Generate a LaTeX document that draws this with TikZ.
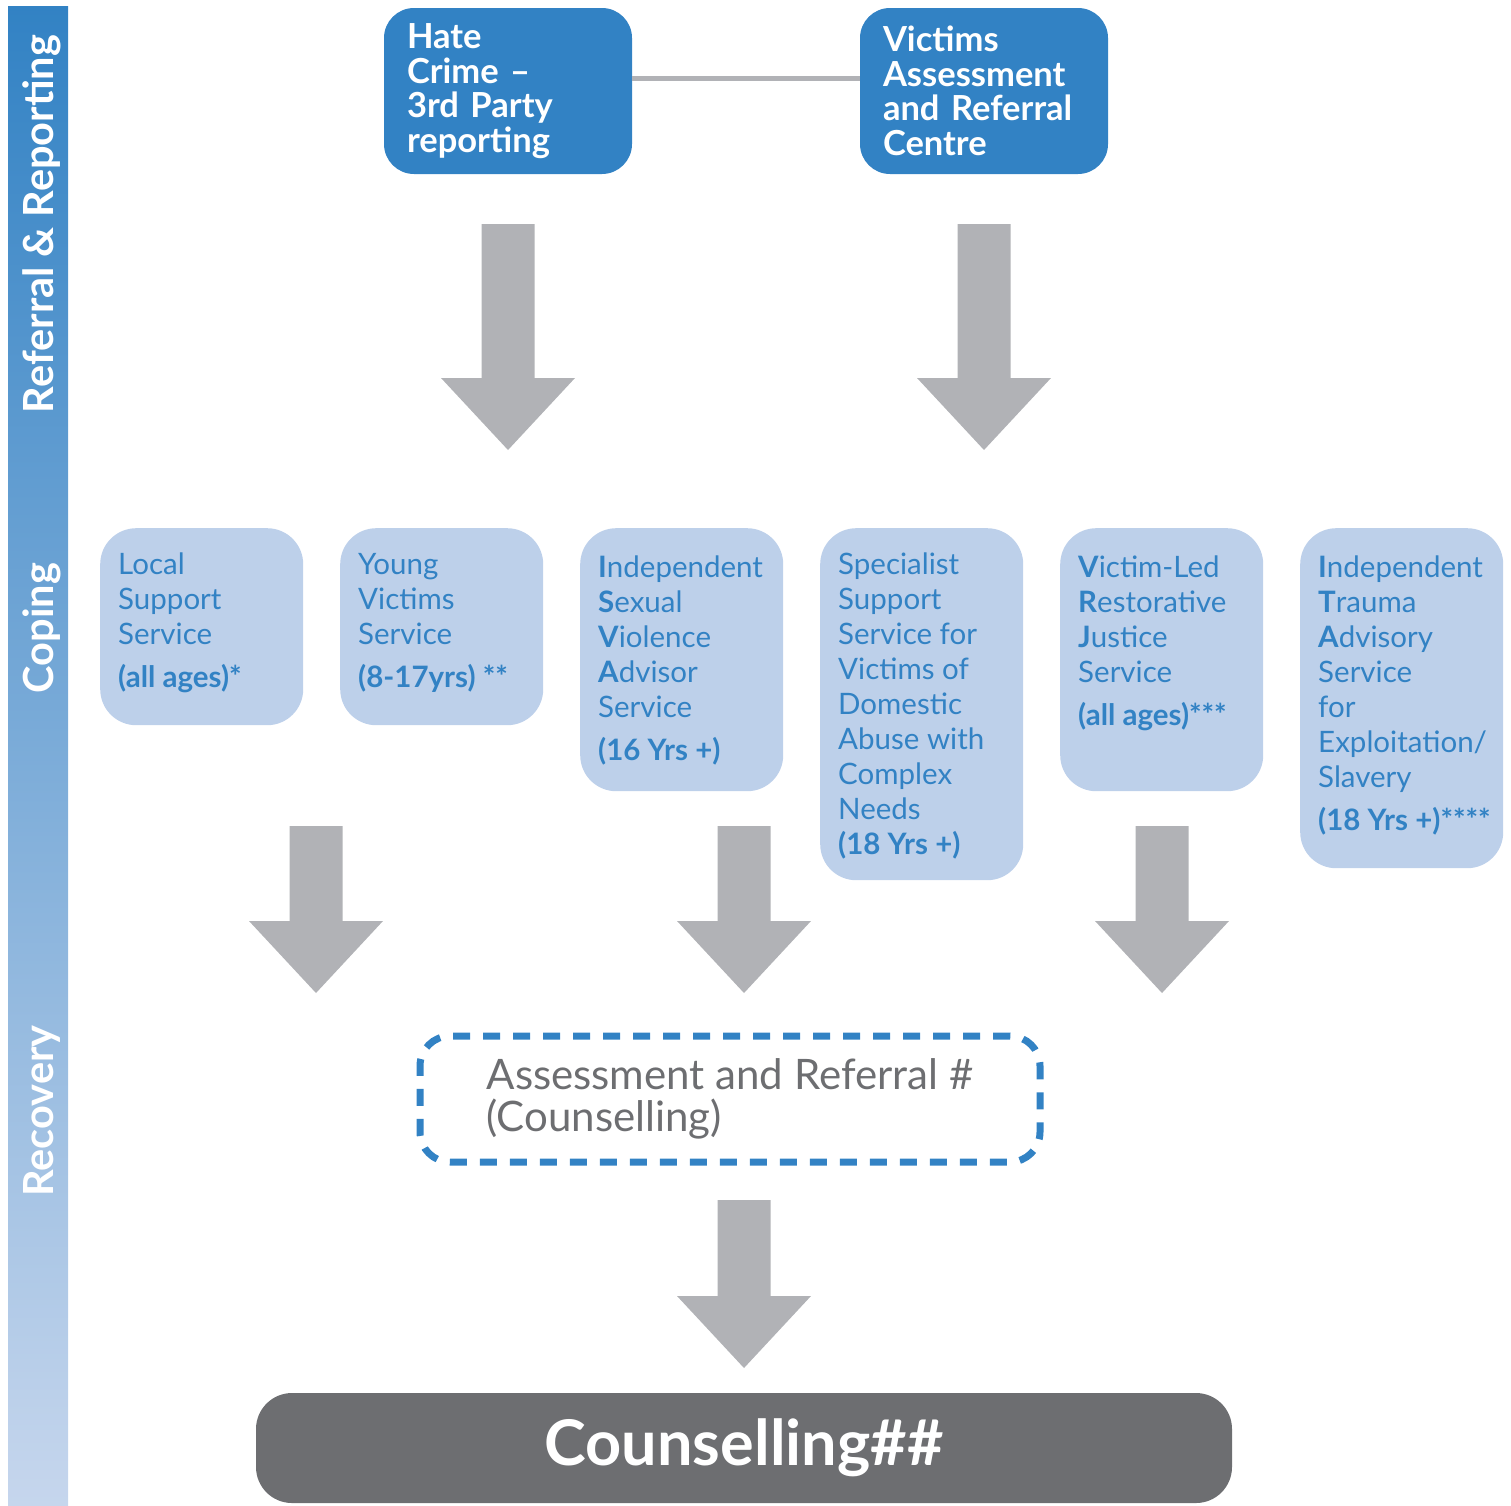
\documentclass[tikz,border=0pt]{standalone}
\usepackage{fontspec}
\setmainfont{Lato}
\definecolor{refblue}{HTML}{3282C4}
\definecolor{barpale}{HTML}{C6D6ED}
\definecolor{copefill}{HTML}{BDD0EA}
\definecolor{arrowgray}{HTML}{B1B2B6}
\definecolor{counselgray}{HTML}{6D6E71}
\begin{document}
\begin{tikzpicture}[x=1pt,y=-1pt,
  topbox/.style={rectangle, rounded corners=30, fill=refblue, text=white,
    font=\fontsize{34.5}{34.5}\selectfont\bfseries, minimum width=248,
    minimum height=166, text width=202, inner xsep=23, inner ysep=0, align=left},
  copebox/.style={rectangle, rounded corners=36, fill=copefill, anchor=north west,
    minimum width=203},
  copetext/.style={anchor=north west, inner sep=0, align=left, text=refblue,
    font=\fontsize{29.5}{35}\selectfont},
  barlabel/.style={rotate=90, anchor=base, text=white, inner sep=0,
    font=\fontsize{41.5}{42}\selectfont\bfseries},
  link/.style={arrowgray, line width=5}]

\useasboundingbox (0,0) rectangle (1511,1505);

\shade[top color=refblue, bottom color=barpale] (8,6) rectangle (68,1505);
\node[barlabel] (refrep) at (53,224) {Referral \& Reporting};
\node[barlabel] (coping) at (53,628) {Coping};
\node[barlabel] (recov) at (53,1111) {Recovery};

\node[topbox] (hate) at (508,91) {Hate\\Crime –\\3rd Party\\reporting};
\node[topbox] (varc) at (984,91) {Victims\\Assessment\\and Referral\\Centre};
\draw[link] ([yshift=13pt]hate.east) -- ([yshift=13pt]varc.west);

\foreach \x/\t/\b in {508/224/450, 984/224/450, 316/826/993, 744/826/993,
    1162/826/993, 744/1200/1368}
  \fill[arrowgray] (\x-26.5,\t) -- (\x+26.5,\t) -- (\x+26.5,\b-72)
    -- (\x+67,\b-72) -- (\x,\b) -- (\x-67,\b-72) -- (\x-26.5,\b-72) -- cycle;

\node[copebox, minimum height=197] (lss) at (100,528) {};
\node[copebox, minimum height=197] (yvs) at (340,528) {};
\node[copebox, minimum height=263] (isva) at (580,528) {};
\node[copebox, minimum height=352] (sss) at (820,528) {};
\node[copebox, minimum height=263] (vlrj) at (1060,528) {};
\node[copebox, minimum height=340] (itas) at (1300,528) {};

\node[copetext] (lsstext) at ([xshift=18pt,yshift=-25pt]lss.north west)
  {Local\\Support\\Service\\[8pt]\textbf{(all ages)*}};
\node[copetext] (yvstext) at ([xshift=18pt,yshift=-25pt]yvs.north west)
  {Young\\Victims\\Service\\[8pt]\textbf{(8-17yrs) **}};
\node[copetext] (isvatext) at ([xshift=18pt,yshift=-28pt]isva.north west)
  {\textbf{I}ndependent\\\textbf{S}exual\\\textbf{V}iolence\\\textbf{A}dvisor\\Service\\[8pt]\textbf{(16 Yrs +)}};
\node[copetext] (ssstext) at ([xshift=18pt,yshift=-25pt]sss.north west)
  {Specialist\\Support\\Service for\\Victims of\\Domestic\\Abuse with\\Complex\\Needs\\\textbf{(18 Yrs +)}};
\node[copetext] (vlrjtext) at ([xshift=18pt,yshift=-28pt]vlrj.north west)
  {\textbf{V}ictim-Led\\\textbf{R}estorative\\\textbf{J}ustice\\Service\\[8pt]\textbf{(all ages)***}};
\node[copetext] (itastext) at ([xshift=18pt,yshift=-28pt]itas.north west)
  {\textbf{I}ndependent\\\textbf{T}rauma\\\textbf{A}dvisory\\Service\\for\\Exploitation/\\Slavery\\[8pt]\textbf{(18 Yrs +)****}};

\node[rectangle, rounded corners=30, draw=refblue, line width=7,
  dash pattern=on 17pt off 13pt, minimum width=620, minimum height=126,
  align=left, text=counselgray, font=\fontsize{42}{42}\selectfont] (asr) at (730,1099)
  {Assessment and Referral \#\\(Counselling)};

\node[rectangle, rounded corners=36, fill=counselgray, minimum width=976,
  minimum height=110, text=white, font=\fontsize{63}{64}\selectfont\bfseries]
  (couns) at (744,1448) {Counselling\#\#};

\end{tikzpicture}
\end{document}
